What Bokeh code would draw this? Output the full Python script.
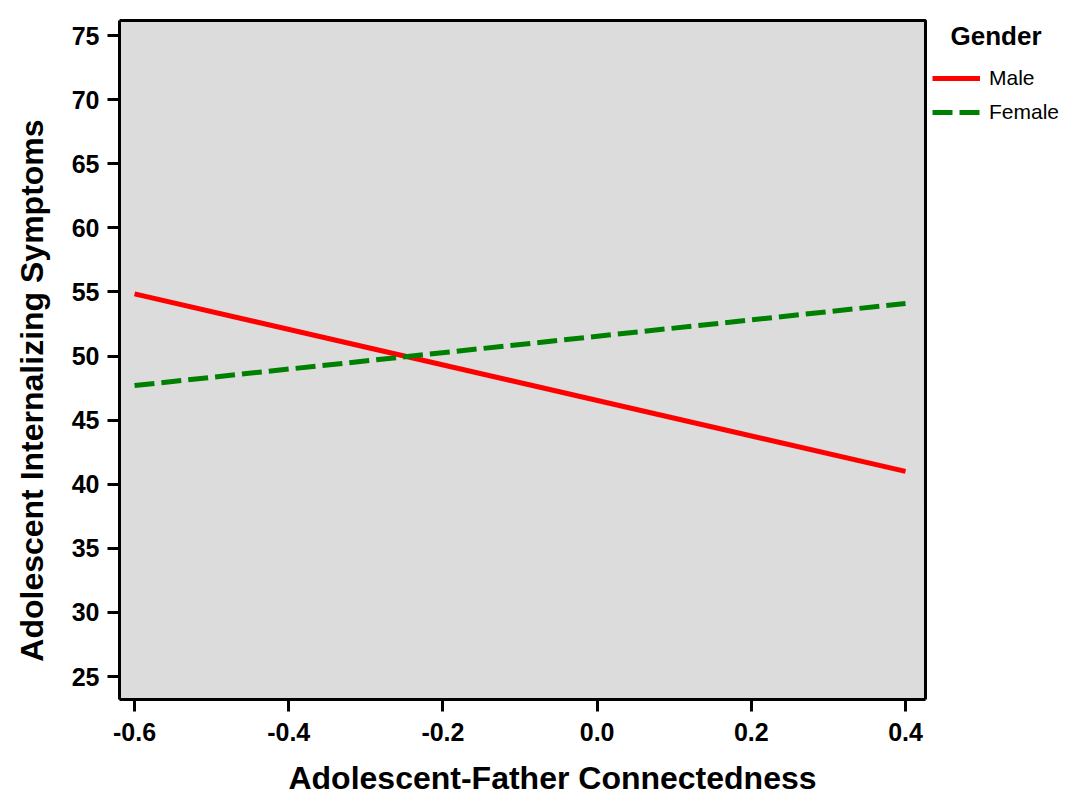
from bokeh.plotting import figure
from bokeh.models import Range1d, Legend, LegendItem, FixedTicker, BoxAnnotation, Label
from bokeh.embed import file_html
from bokeh.resources import INLINE

# Data
x_vals = [-0.6, 0.4]
male_y = [54.85, 41.0]
female_y = [47.7, 54.1]
series_names = ["Male", "Female"]
x_ticks = [-0.6, -0.4, -0.2, 0.0, 0.2, 0.4]
y_ticks = [25, 30, 35, 40, 45, 50, 55, 60, 65, 70, 75]
x_title = "Adolescent-Father Connectedness"
y_title = "Adolescent Internalizing Symptoms"
legend_title = "Gender"

# plot-area extents (data units)
X_LO, X_HI = -0.6195, 0.4259
Y_LO, Y_HI = 23.21, 76.17

FONT = "Liberation Sans"
NB = "\u00a0"

p = figure(width=1065, height=799, output_backend="svg", toolbar_location=None,
           x_range=Range1d(X_LO, 0.6075), y_range=Range1d(Y_LO, 76.95),
           min_border_left=119, min_border_right=0, min_border_top=10, min_border_bottom=100)

p.background_fill_color = "white"
p.border_fill_color = "white"
p.outline_line_color = None
p.xgrid.visible = False
p.ygrid.visible = False

# grey plot area with black frame
box = BoxAnnotation(left=X_LO, right=X_HI, bottom=Y_LO, top=Y_HI,
                    fill_color="#dcdcdc", fill_alpha=1.0,
                    line_color="black", line_alpha=1.0, line_width=3, level="underlay")
p.add_layout(box)

for ax in (p.xaxis[0], p.yaxis[0]):
    ax.axis_line_color = "black"
    ax.axis_line_width = 3
    ax.major_tick_line_color = "black"
    ax.major_tick_line_width = 3
    ax.major_tick_out = 12
    ax.major_tick_in = 0
    ax.minor_tick_line_color = None
    ax.major_label_text_font = FONT
    ax.major_label_text_font_style = "bold"
    ax.major_label_text_font_size = "25px"
    ax.major_label_text_color = "black"
    ax.axis_label_text_font = FONT
    ax.axis_label_text_font_style = "bold"
    ax.axis_label_text_font_size = "32px"
    ax.axis_label_text_color = "black"

p.xaxis.bounds = (X_LO, X_HI)
p.yaxis.bounds = (Y_LO, Y_HI)
p.xaxis.ticker = FixedTicker(ticks=x_ticks)
p.yaxis.ticker = FixedTicker(ticks=y_ticks)
p.xaxis.major_label_overrides = {t: f"{t:.1f}" for t in x_ticks}
p.xaxis.major_label_standoff = 11
p.yaxis.major_label_standoff = 8
p.xaxis.axis_label = x_title + NB * 9
p.yaxis.axis_label = y_title + NB * 8
p.xaxis.axis_label_standoff = 16
p.yaxis.axis_label_standoff = 19

r_male = p.line(x_vals, male_y, line_color="#ff0000", line_width=5)
r_female = p.line(x_vals, female_y, line_color="#008000", line_width=5, line_dash="20 7")

legend = Legend(items=[LegendItem(label=series_names[0], renderers=[r_male]),
                       LegendItem(label=series_names[1], renderers=[r_female])],
                location=(813, 574), margin=0, padding=5, spacing=8,
                glyph_width=48, glyph_height=26, label_height=26, label_standoff=9,
                label_text_font=FONT, label_text_font_size="21px", label_text_color="black",
                background_fill_alpha=0, border_line_color=None)
p.add_layout(legend, "center")

title_lbl = Label(x=0.4584, y=75.0, text=legend_title, text_font=FONT, text_font_style="bold",
                  text_font_size="26px", text_baseline="middle", text_align="left",
                  text_color="black")
p.add_layout(title_lbl)

open("out.html", "w").write(file_html(p, INLINE))
